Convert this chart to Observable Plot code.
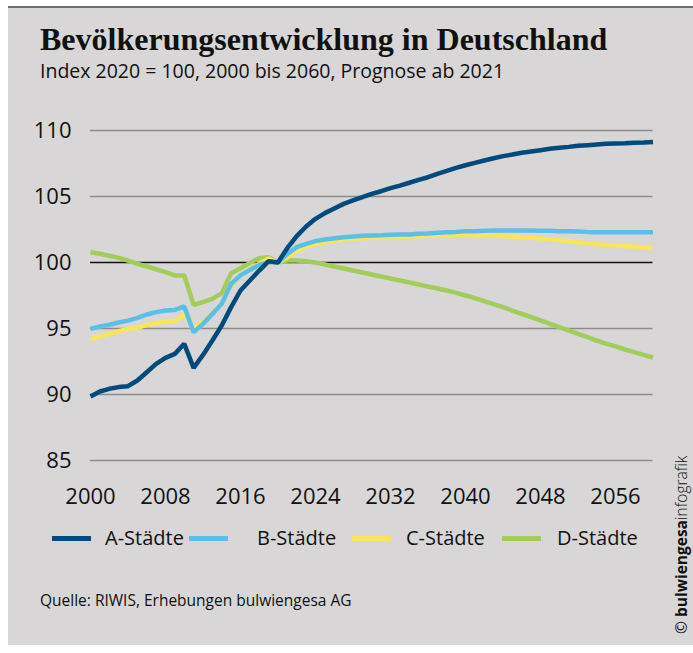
<!DOCTYPE html>
<html>
<head>
<meta charset="utf-8">
<script src="https://cdn.jsdelivr.net/npm/d3@7"></script>
<script src="https://cdn.jsdelivr.net/npm/@observablehq/plot@0.6"></script>
<style>
  html, body { margin: 0; padding: 0; background: #fff; }
  #page { position: relative; width: 693px; height: 653px; overflow: hidden; font-family: "Open Sans", sans-serif; }
  #panel { position: absolute; left: 8px; top: 6px; width: 685px; height: 639px; background: #d8d6d7; border-top: 2px solid #6e6e6e; box-sizing: border-box; }
  #title { position: absolute; left: 40px; top: 21px; font-family: "Liberation Serif", serif; font-weight: bold; font-size: 32px; line-height: 36px; color: #111; white-space: nowrap; }
  #subtitle { position: absolute; left: 40px; top: 59px; font-size: 19.5px; line-height: 24px; color: #111; white-space: nowrap; }
  #chart { position: absolute; left: 0; top: 0; }
  .leg { position: absolute; top: 525px; height: 26px; }
  .sw { position: absolute; top: 11px; height: 5px; width: 39px; }
  .lt { position: absolute; top: 0; font-size: 20px; line-height: 26px; color: #111; white-space: nowrap; }
  #source { position: absolute; left: 40px; top: 590px; font-size: 15.5px; line-height: 20px; color: #111; white-space: nowrap; }
  #copy { position: absolute; left: 673px; top: 634px; transform-origin: 0 0; transform: rotate(-90deg); font-size: 15.5px; line-height: 17px; color: #111; white-space: nowrap; }
</style>
</head>
<body>
<div id="page">
  <div id="panel"></div>
  <div id="title">Bevölkerungsentwicklung in Deutschland</div>
  <div id="subtitle">Index 2020 = 100, 2000 bis 2060, Prognose ab 2021</div>
  <div id="chart"></div>
  <div id="legend"></div>
  <div id="source">Quelle: RIWIS, Erhebungen bulwiengesa AG</div>
  <div id="copy">© <b>bulwiengesa</b><span style="font-weight:300">infografik</span></div>
</div>
<script>
// ---- data ----
const years = d3.range(2000, 2061);
const seriesNames = ["A-Städte", "B-Städte", "C-Städte", "D-Städte"];
const seriesColors = ["#004a7c", "#5bbfe8", "#f8e55a", "#a4cc5a"];
const xTicks = [2000, 2008, 2016, 2024, 2032, 2040, 2048, 2056];
const yTicks = [85, 90, 95, 100, 105, 110];

const aStaedte = [89.85, 90.23, 90.43, 90.56, 90.63, 91.06, 91.69, 92.32, 92.78, 93.08,
  93.84, 92.02, 93.0, 94.09, 95.23, 96.62, 97.88, 98.64, 99.39, 100.1,
  100.0, 101.1, 102.0, 102.73, 103.31, 103.74, 104.09, 104.44, 104.7, 104.95,
  105.2, 105.4, 105.63, 105.83, 106.04, 106.26, 106.46, 106.72, 106.94, 107.17,
  107.37, 107.55, 107.73, 107.9, 108.06, 108.18, 108.31, 108.41, 108.51, 108.61,
  108.69, 108.76, 108.84, 108.89, 108.94, 108.99, 109.02, 109.04, 109.07, 109.09, 109.12];
const bStaedte = [94.97, 95.15, 95.28, 95.45, 95.6, 95.8, 96.06, 96.24, 96.36, 96.41,
  96.67, 94.72, 95.35, 96.11, 96.87, 98.38, 99.02, 99.44, 99.82, 100.03,
  100.0, 100.66, 101.16, 101.41, 101.62, 101.74, 101.84, 101.92, 101.97, 102.02,
  102.05, 102.07, 102.1, 102.12, 102.12, 102.17, 102.2, 102.25, 102.3, 102.32,
  102.37, 102.37, 102.4, 102.42, 102.42, 102.42, 102.42, 102.42, 102.4, 102.4,
  102.37, 102.37, 102.35, 102.32, 102.3, 102.3, 102.3, 102.3, 102.3, 102.3, 102.3];
const cStaedte = [94.17, 94.39, 94.6, 94.8, 94.97, 95.05, 95.28, 95.4, 95.53, 95.56,
  96.06, 95.05, 95.5, 96.2, 96.9, 98.3, 99.0, 99.5, 99.9, 100.3,
  100.0, 100.4, 100.9, 101.2, 101.41, 101.54, 101.67, 101.74, 101.79, 101.84,
  101.87, 101.89, 101.92, 101.94, 101.97, 101.99, 102.02, 102.05, 102.07, 102.1,
  102.1, 102.07, 102.05, 102.02, 101.99, 101.97, 101.92, 101.87, 101.82, 101.77,
  101.69, 101.62, 101.54, 101.46, 101.39, 101.34, 101.29, 101.24, 101.19, 101.14, 101.09];
const dStaedte = [100.78, 100.66, 100.51, 100.35, 100.15, 99.9, 99.7, 99.49, 99.27, 99.02,
  99.02, 96.79, 97.0, 97.25, 97.68, 99.19, 99.57, 99.97, 100.33, 100.4,
  100.0, 100.15, 100.15, 100.1, 100.0, 99.85, 99.7, 99.55, 99.39, 99.24,
  99.09, 98.94, 98.79, 98.64, 98.48, 98.33, 98.18, 98.03, 97.88, 97.7,
  97.5, 97.3, 97.07, 96.84, 96.62, 96.36, 96.11, 95.86, 95.61, 95.35,
  95.1, 94.85, 94.6, 94.34, 94.09, 93.86, 93.64, 93.41, 93.21, 93.0, 92.8];

const seriesValues = [aStaedte, bStaedte, cStaedte, dStaedte];

// long table, drawn D first so that A is on top
const rows = [];
for (let s = seriesNames.length - 1; s >= 0; s--) {
  years.forEach((yr, i) => rows.push({year: yr, value: seriesValues[s][i], series: seriesNames[s]}));
}

const chart = Plot.plot({
  width: 693,
  height: 653,
  marginLeft: 90,
  marginRight: 40.5,
  marginTop: 130,
  marginBottom: 193,
  style: {background: "transparent", fontFamily: "'Open Sans', sans-serif", color: "#111", overflow: "visible"},
  x: {domain: [2000, 2060], axis: null},
  y: {domain: [85, 110], axis: null},
  color: {domain: seriesNames, range: seriesColors},
  marks: [
    Plot.ruleY(yTicks.filter(d => d !== 100), {stroke: "#8c8c8c", strokeWidth: 1.5}),
    Plot.ruleY([100], {stroke: "#111", strokeWidth: 1.5}),
    Plot.axisX({ticks: xTicks, tickFormat: "d", tickSize: 0, tickPadding: 28, fontSize: 22, label: null, fill: "#111"}),
    Plot.axisY({ticks: yTicks, tickSize: 0, tickPadding: 19, fontSize: 22, label: null, fill: "#111"}),
    Plot.line(rows, {x: "year", y: "value", z: "series", stroke: "series", strokeWidth: 4.5, strokeLinejoin: "miter", strokeLinecap: "butt"})
  ]
});
document.getElementById("chart").appendChild(chart);

// legend
const legendX = [[52, 105], [189, 257], [352, 406], [502, 557]];
const legend = document.getElementById("legend");
seriesNames.forEach((name, i) => {
  const g = document.createElement("div");
  g.className = "leg";
  g.style.left = legendX[i][0] + "px";
  const sw = document.createElement("div");
  sw.className = "sw";
  sw.style.left = "0px";
  sw.style.background = seriesColors[i];
  const t = document.createElement("div");
  t.className = "lt";
  t.style.left = (legendX[i][1] - legendX[i][0]) + "px";
  t.textContent = name;
  g.appendChild(sw);
  g.appendChild(t);
  legend.appendChild(g);
});
</script>
</body>
</html>
